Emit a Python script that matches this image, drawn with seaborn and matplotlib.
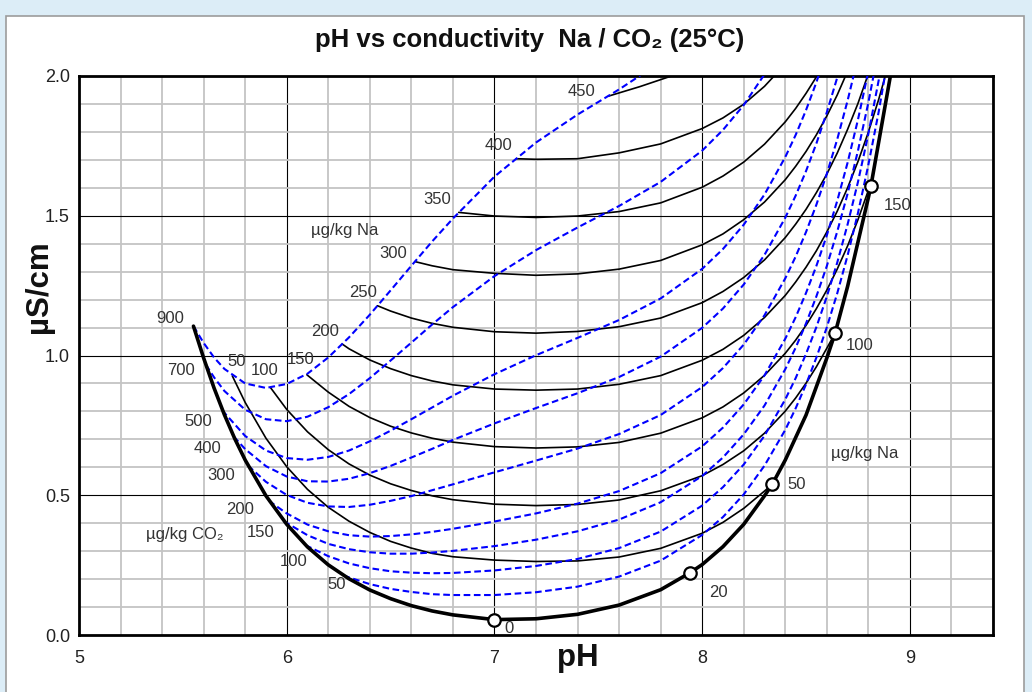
import numpy as np
import pandas as pd
import matplotlib
matplotlib.use("Agg")
import matplotlib.pyplot as plt
import seaborn as sns
from matplotlib.patches import Rectangle
from matplotlib.ticker import MultipleLocator

# --- values: pH (x) vs conductivity in uS/cm (y) ---

# thick boundary: Na = 0 on the left, joined to CO2 = 0 on the right
thick_ph = [5.551, 5.6, 5.65, 5.7, 5.75, 5.8, 5.9, 6.0, 6.1, 6.2, 6.3, 6.4, 6.5, 6.6,
            6.7, 6.8, 7.0, 7.2, 7.4, 7.6, 7.8, 7.94, 8.0, 8.1, 8.2, 8.3, 8.338, 8.4,
            8.5, 8.6, 8.64, 8.7, 8.8, 8.812, 8.906]
thick_k = [1.105, 0.991, 0.884, 0.788, 0.702, 0.626, 0.498, 0.396, 0.315, 0.251, 0.201,
           0.161, 0.130, 0.105, 0.086, 0.072, 0.055, 0.058, 0.074, 0.107, 0.162, 0.222,
           0.252, 0.316, 0.396, 0.498, 0.540, 0.626, 0.787, 0.991, 1.080, 1.247, 1.565,
           1.605, 2.0]

# blue dashed: constant CO2 (ug/kg)
co2_900_ph = [5.551, 5.6, 5.65, 5.7, 5.8, 5.9, 6.0, 6.1, 6.2, 6.3, 6.4, 6.5, 6.6, 6.7,
              6.8, 7.0, 7.2, 7.4, 7.6, 7.8]
co2_900_k = [1.105, 1.045, 0.993, 0.952, 0.900, 0.884, 0.898, 0.935, 0.993, 1.065, 1.146,
             1.233, 1.321, 1.408, 1.490, 1.640, 1.762, 1.862, 1.952, 2.050]

co2_700_ph = [5.611, 5.65, 5.7, 5.8, 5.9, 6.0, 6.1, 6.2, 6.3, 6.4, 6.5, 6.6, 6.7, 6.8,
              7.0, 7.2, 7.4, 7.6, 7.8, 8.0, 8.1, 8.2, 8.3]
co2_700_k = [0.967, 0.922, 0.873, 0.806, 0.772, 0.765, 0.781, 0.815, 0.862, 0.919, 0.982,
             1.046, 1.111, 1.173, 1.284, 1.377, 1.458, 1.535, 1.621, 1.733, 1.807, 1.896,
             2.006]

co2_500_ph = [5.691, 5.7, 5.8, 5.9, 6.0, 6.1, 6.2, 6.3, 6.4, 6.5, 6.6, 6.7, 6.8, 7.0,
              7.2, 7.4, 7.6, 7.8, 8.0, 8.1, 8.2, 8.3, 8.4, 8.45, 8.5, 8.55, 8.6]
co2_500_k = [0.805, 0.795, 0.712, 0.660, 0.633, 0.627, 0.637, 0.660, 0.693, 0.731, 0.772,
             0.814, 0.856, 0.933, 1.001, 1.063, 1.127, 1.204, 1.310, 1.381, 1.468, 1.576,
             1.710, 1.789, 1.878, 1.978, 2.089]

co2_400_ph = [5.745, 5.8, 5.9, 6.0, 6.1, 6.2, 6.3, 6.4, 6.5, 6.6, 6.7, 6.8, 7.0, 7.2,
              7.4, 7.6, 7.8, 8.0, 8.1, 8.2, 8.3, 8.4, 8.45, 8.5, 8.55, 8.6, 8.65, 8.7]
co2_400_k = [0.710, 0.665, 0.604, 0.567, 0.550, 0.549, 0.559, 0.579, 0.605, 0.635, 0.666,
             0.698, 0.757, 0.812, 0.865, 0.923, 0.996, 1.099, 1.168, 1.254, 1.360, 1.493,
             1.572, 1.660, 1.759, 1.870, 1.994, 2.133]

co2_300_ph = [5.814, 5.9, 6.0, 6.1, 6.2, 6.3, 6.4, 6.5, 6.6, 6.7, 6.8, 7.0, 7.2, 7.4,
              7.6, 7.8, 8.0, 8.1, 8.2, 8.3, 8.4, 8.45, 8.5, 8.55, 8.6, 8.65, 8.7, 8.75]
co2_300_k = [0.606, 0.548, 0.501, 0.473, 0.460, 0.458, 0.466, 0.480, 0.497, 0.518, 0.539,
             0.582, 0.624, 0.667, 0.719, 0.787, 0.887, 0.955, 1.039, 1.144, 1.276, 1.354,
             1.442, 1.540, 1.650, 1.773, 1.912, 2.066]

co2_200_ph = [5.914, 6.0, 6.1, 6.2, 6.3, 6.4, 6.5, 6.6, 6.7, 6.8, 7.0, 7.2, 7.4, 7.6,
              7.8, 8.0, 8.1, 8.2, 8.3, 8.4, 8.45, 8.5, 8.55, 8.6, 8.65, 8.7, 8.75, 8.8]
co2_200_k = [0.480, 0.435, 0.395, 0.371, 0.357, 0.352, 0.354, 0.360, 0.369, 0.380, 0.406,
             0.435, 0.470, 0.515, 0.579, 0.675, 0.742, 0.825, 0.929, 1.060, 1.137, 1.224,
             1.321, 1.430, 1.553, 1.690, 1.844, 2.017]

co2_150_ph = [5.986, 6.0, 6.1, 6.2, 6.3, 6.4, 6.5, 6.6, 6.7, 6.8, 7.0, 7.2, 7.4, 7.6,
              7.8, 8.0, 8.1, 8.2, 8.3, 8.4, 8.45, 8.5, 8.55, 8.6, 8.65, 8.7, 8.75, 8.8,
              8.85]
co2_150_k = [0.407, 0.401, 0.357, 0.326, 0.307, 0.296, 0.291, 0.291, 0.295, 0.301, 0.318,
             0.341, 0.371, 0.413, 0.475, 0.569, 0.635, 0.718, 0.821, 0.951, 1.028, 1.115,
             1.212, 1.320, 1.443, 1.579, 1.733, 1.905, 2.098]

co2_100_ph = [6.090, 6.1, 6.2, 6.3, 6.4, 6.5, 6.6, 6.7, 6.8, 7.0, 7.2, 7.4, 7.6, 7.8,
              8.0, 8.1, 8.2, 8.3, 8.4, 8.45, 8.5, 8.55, 8.6, 8.65, 8.7, 8.75, 8.8, 8.85,
              8.9]
co2_100_k = [0.322, 0.318, 0.282, 0.256, 0.239, 0.228, 0.223, 0.221, 0.222, 0.231, 0.247,
             0.272, 0.311, 0.370, 0.463, 0.529, 0.610, 0.713, 0.843, 0.919, 1.006, 1.102,
             1.211, 1.332, 1.469, 1.621, 1.793, 1.986, 2.202]

co2_50_ph = [6.273, 6.3, 6.4, 6.5, 6.6, 6.7, 6.8, 7.0, 7.2, 7.4, 7.6, 7.8, 8.0, 8.1,
             8.2, 8.3, 8.4, 8.45, 8.5, 8.55, 8.6, 8.65, 8.7, 8.75, 8.8, 8.85, 8.9]
co2_50_k = [0.213, 0.206, 0.182, 0.165, 0.154, 0.146, 0.143, 0.143, 0.153, 0.173, 0.209,
            0.266, 0.358, 0.422, 0.503, 0.606, 0.734, 0.811, 0.897, 0.993, 1.101, 1.222,
            1.358, 1.510, 1.682, 1.873, 2.089]

# black solid: constant Na (ug/kg)
na50_ph = [5.738, 5.8, 5.9, 6.0, 6.1, 6.2, 6.3, 6.4, 6.5, 6.6, 6.7, 6.8, 7.0, 7.2, 7.4,
           7.6, 7.8, 8.0, 8.1, 8.2, 8.3, 8.338]
na50_k = [0.927, 0.832, 0.704, 0.602, 0.521, 0.457, 0.407, 0.367, 0.335, 0.311, 0.292,
          0.280, 0.268, 0.263, 0.265, 0.279, 0.310, 0.364, 0.403, 0.453, 0.515, 0.540]

na100_ph = [5.922, 6.0, 6.1, 6.2, 6.3, 6.4, 6.5, 6.6, 6.7, 6.8, 7.0, 7.2, 7.4, 7.6, 7.8,
            8.0, 8.1, 8.2, 8.3, 8.4, 8.45, 8.5, 8.55, 8.6, 8.64]
na100_k = [0.885, 0.807, 0.727, 0.663, 0.612, 0.572, 0.541, 0.517, 0.498, 0.484, 0.468,
           0.463, 0.467, 0.483, 0.516, 0.570, 0.610, 0.659, 0.722, 0.801, 0.848, 0.901,
           0.960, 1.026, 1.080]

na150_ph = [6.097, 6.2, 6.3, 6.4, 6.5, 6.6, 6.7, 6.8, 7.0, 7.2, 7.4, 7.6, 7.8, 8.0, 8.1,
            8.2, 8.3, 8.4, 8.45, 8.5, 8.55, 8.6, 8.65, 8.7, 8.75, 8.8, 8.812]
na150_k = [0.931, 0.869, 0.818, 0.778, 0.747, 0.723, 0.704, 0.690, 0.674, 0.669, 0.673,
           0.689, 0.722, 0.777, 0.816, 0.866, 0.929, 1.008, 1.055, 1.108, 1.168, 1.234,
           1.309, 1.392, 1.486, 1.591, 1.605]

na200_ph = [6.267, 6.3, 6.4, 6.5, 6.6, 6.7, 6.8, 7.0, 7.2, 7.4, 7.6, 7.8, 8.0, 8.1, 8.2,
            8.3, 8.4, 8.45, 8.5, 8.55, 8.6, 8.65, 8.7, 8.75, 8.8, 8.85, 8.9]
na200_k = [1.041, 1.024, 0.984, 0.953, 0.928, 0.909, 0.895, 0.880, 0.876, 0.880, 0.897,
           0.928, 0.983, 1.022, 1.072, 1.136, 1.215, 1.263, 1.316, 1.375, 1.442, 1.516,
           1.600, 1.694, 1.799, 1.917, 2.049]

na250_ph = [6.437, 6.5, 6.6, 6.7, 6.8, 7.0, 7.2, 7.4, 7.6, 7.8, 8.0, 8.1, 8.2, 8.3, 8.4,
            8.45, 8.5, 8.55, 8.6, 8.65, 8.7, 8.75, 8.8]
na250_k = [1.178, 1.159, 1.134, 1.115, 1.101, 1.085, 1.080, 1.086, 1.103, 1.134, 1.189,
           1.229, 1.279, 1.342, 1.422, 1.470, 1.523, 1.583, 1.649, 1.724, 1.809, 1.902,
           2.008]

na300_ph = [6.617, 6.7, 6.8, 7.0, 7.2, 7.4, 7.6, 7.8, 8.0, 8.1, 8.2, 8.3, 8.4, 8.45, 8.5,
            8.55, 8.6, 8.65, 8.7]
na300_k = [1.336, 1.321, 1.307, 1.294, 1.287, 1.292, 1.309, 1.340, 1.396, 1.435, 1.486,
           1.549, 1.629, 1.677, 1.730, 1.790, 1.857, 1.932, 2.017]

na350_ph = [6.828, 7.0, 7.2, 7.4, 7.6, 7.8, 8.0, 8.1, 8.2, 8.3, 8.4, 8.45, 8.5, 8.55, 8.6]
na350_k = [1.512, 1.499, 1.494, 1.499, 1.515, 1.546, 1.602, 1.642, 1.692, 1.756, 1.836,
           1.884, 1.938, 1.997, 2.064]

na400_ph = [7.105, 7.2, 7.4, 7.6, 7.8, 8.0, 8.1, 8.2, 8.3, 8.4]
na400_k = [1.704, 1.702, 1.704, 1.725, 1.757, 1.812, 1.850, 1.899, 1.963, 2.043]

na450_ph = [7.549, 7.7, 7.86]
na450_k = [1.928, 1.962, 2.002]

# open circles on the CO2 = 0 branch (ug/kg Na)
circle_ph = [7.0, 7.94, 8.338, 8.64, 8.812]
circle_k = [0.055, 0.222, 0.540, 1.080, 1.605]
circle_na = ["0", "20", "50", "100", "150"]

co2_levels = [900, 700, 500, 400, 300, 200, 150, 100, 50]
na_levels = [50, 100, 150, 200, 250, 300, 350, 400, 450]

# --- long tables for seaborn ---
co2_curves = [(co2_900_ph, co2_900_k), (co2_700_ph, co2_700_k), (co2_500_ph, co2_500_k),
              (co2_400_ph, co2_400_k), (co2_300_ph, co2_300_k), (co2_200_ph, co2_200_k),
              (co2_150_ph, co2_150_k), (co2_100_ph, co2_100_k), (co2_50_ph, co2_50_k)]
na_curves = [(na50_ph, na50_k), (na100_ph, na100_k), (na150_ph, na150_k),
             (na200_ph, na200_k), (na250_ph, na250_k), (na300_ph, na300_k),
             (na350_ph, na350_k), (na400_ph, na400_k), (na450_ph, na450_k)]

df_co2 = pd.concat([pd.DataFrame({"pH": p, "k": k, "curve": lvl})
                    for lvl, (p, k) in zip(co2_levels, co2_curves)], ignore_index=True)
df_na = pd.concat([pd.DataFrame({"pH": p, "k": k, "curve": lvl})
                   for lvl, (p, k) in zip(na_levels, na_curves)], ignore_index=True)

# --- figure ---
sns.set_theme(style="white")
plt.rcParams["font.family"] = ["Liberation Sans", "DejaVu Sans"]

fig = plt.figure(figsize=(10.32, 6.92), dpi=100)
fig.patch.set_facecolor("#dcedf7")
fig.add_artist(Rectangle((6 / 1032, -0.01), 1018 / 1032, (692 - 16) / 692 + 0.01,
                         transform=fig.transFigure, facecolor="white",
                         edgecolor="#9c9c9c", lw=1.2, zorder=0))

ax = fig.add_axes([79 / 1032, 1 - 635 / 692, 914 / 1032, 559 / 692])
ax.set_facecolor("white")

sns.lineplot(data=df_na, x="pH", y="k", units="curve", estimator=None, sort=False,
             color="black", lw=1.2, ax=ax, zorder=3)
sns.lineplot(data=df_co2, x="pH", y="k", units="curve", estimator=None, sort=False,
             color="#0000ff", lw=1.5, linestyle=(0, (3.2, 1.7)), ax=ax, zorder=4)
sns.lineplot(x=thick_ph, y=thick_k, sort=False, estimator=None, color="black", lw=2.6,
             ax=ax, zorder=5)
sns.scatterplot(x=circle_ph, y=circle_k, s=80, color="white", edgecolor="black",
                linewidth=1.6, ax=ax, zorder=6)

ax.set_xlim(5, 9.4)
ax.set_ylim(0, 2.0)
ax.xaxis.set_major_locator(MultipleLocator(1))
ax.xaxis.set_minor_locator(MultipleLocator(0.2))
ax.yaxis.set_major_locator(MultipleLocator(0.5))
ax.yaxis.set_minor_locator(MultipleLocator(0.1))
ax.set_yticklabels([f"{v:.1f}" for v in ax.get_yticks()])
ax.set_axisbelow(True)
ax.grid(which="minor", color="#c4c4c4", lw=1.3)
ax.grid(which="major", color="black", lw=0.8)
ax.tick_params(which="minor", length=0)
ax.tick_params(which="major", direction="out", length=5, width=1, color="black",
               labelsize=13, labelcolor="#222222", pad=1.5)
ax.tick_params(axis="x", which="major", pad=6)
for s in ax.spines.values():
    s.set_color("black")
    s.set_linewidth(2)
ax.set_xlabel("")
ax.set_ylabel("")

fig.text(530 / 1032, 1 - 40 / 692, "pH vs conductivity  Na / CO₂ (25°C)", ha="center",
         va="center", fontsize=18.5, fontweight="bold", color="#111111")
fig.text(39 / 1032, 1 - 287 / 692, "µS/cm", rotation=90, ha="center", va="center",
         fontsize=22.5, fontweight="bold", color="#111111")
fig.text(578 / 1032, 1 - 658 / 692, "pH", ha="center", va="center", fontsize=22.5,
         fontweight="bold", color="#111111")

# --- curve labels ---
lab = dict(fontsize=12, color="#333333", ha="center", va="center", zorder=7)
co2_lab_pos = [(5.439, 1.133), (5.49, 0.948), (5.575, 0.763), (5.618, 0.668),
               (5.684, 0.569), (5.773, 0.450), (5.872, 0.367), (6.033, 0.262),
               (6.242, 0.179)]
for lvl, (x, y) in zip(co2_levels, co2_lab_pos):
    ax.text(x, y, str(lvl), **lab)
na_lab_pos = [(5.757, 0.978), (5.892, 0.945), (6.065, 0.987), (6.186, 1.085),
              (6.367, 1.226), (6.512, 1.366), (6.724, 1.559), (7.018, 1.75),
              (7.418, 1.946)]
for lvl, (x, y) in zip(na_levels, na_lab_pos):
    ax.text(x, y, str(lvl), **lab)
circle_lab_pos = [(7.069, 0.024), (8.076, 0.153), (8.455, 0.540), (8.756, 1.035),
                  (8.94, 1.538)]
for t, (x, y) in zip(circle_na, circle_lab_pos):
    ax.text(x, y, t, **lab)
ax.text(6.279, 1.447, "µg/kg Na", **lab)
ax.text(8.78, 0.65, "µg/kg Na", **lab)
ax.text(5.51, 0.358, "µg/kg CO₂", **lab)

plt.savefig("out.png", dpi=100, facecolor=fig.get_facecolor())
